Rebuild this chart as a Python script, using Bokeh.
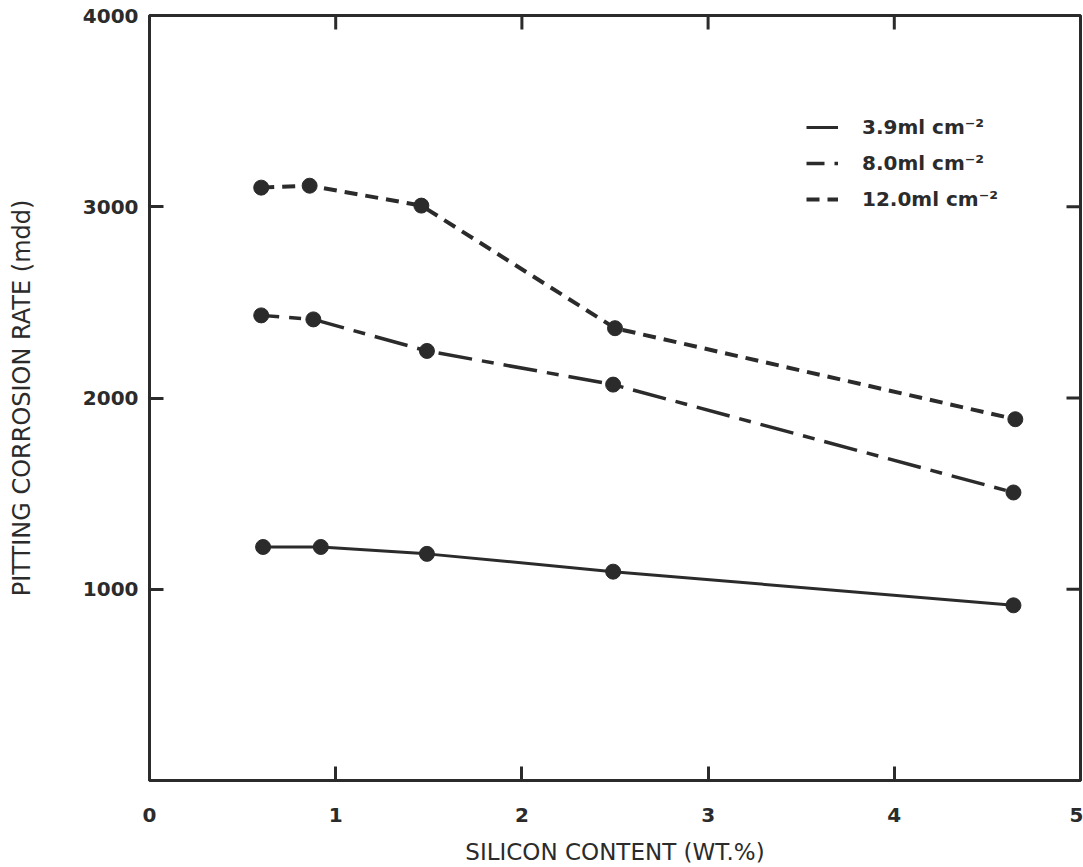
import math
from bokeh.plotting import figure
from bokeh.models import Range1d, FixedTicker, LinearAxis, Legend, LegendItem
from bokeh.embed import file_html
from bokeh.resources import INLINE

# ---- data ----
silicon_39 = [0.61, 0.92, 1.49, 2.49, 4.64]
rate_39 = [1221, 1221, 1185, 1092, 916]

silicon_80 = [0.60, 0.88, 1.49, 2.49, 4.64]
rate_80 = [2432, 2411, 2246, 2070, 1506]

silicon_120 = [0.60, 0.86, 1.46, 2.50, 4.65]
rate_120 = [3100, 3110, 3006, 2365, 1889]

series_labels = ["3.9ml cm\u207b\u00b2", "8.0ml cm\u207b\u00b2", "12.0ml cm\u207b\u00b2"]
x_ticks = [0, 1, 2, 3, 4, 5]
y_ticks = [1000, 2000, 3000, 4000]
x_min, x_max = 0, 5
y_min, y_max = 0, 4000

INK = "#2b2b2b"
FONT = "DejaVu Sans"

p = figure(width=1083, height=867, output_backend="svg", toolbar_location=None,
           x_range=Range1d(x_min, x_max), y_range=Range1d(y_min, y_max),
           min_border_left=149, min_border_right=3, min_border_top=15,
           min_border_bottom=79, x_axis_location=None, y_axis_location=None)
p.xgrid.visible = False
p.ygrid.visible = False
p.outline_line_color = INK
p.outline_line_width = 3
p.background_fill_color = "white"
p.border_fill_color = "white"


def style_axis(ax):
    ax.axis_line_color = INK
    ax.axis_line_width = 3
    ax.major_tick_line_color = INK
    ax.major_tick_line_width = 3
    ax.major_tick_in = 14
    ax.major_tick_out = 0
    ax.minor_tick_line_color = None
    ax.major_label_text_font = FONT
    ax.major_label_text_font_style = "bold"
    ax.major_label_text_font_size = "20px"
    ax.major_label_text_color = INK


bottom = LinearAxis(ticker=FixedTicker(ticks=x_ticks), axis_label="SILICON CONTENT (WT.%)")
style_axis(bottom)
bottom.major_label_standoff = 27
bottom.axis_label_standoff = 14
bottom.axis_label_text_font = FONT
bottom.axis_label_text_font_size = "23px"
bottom.axis_label_text_font_style = "normal"
bottom.axis_label_text_color = INK
p.add_layout(bottom, "below")

left = LinearAxis(ticker=FixedTicker(ticks=y_ticks), axis_label="PITTING CORROSION RATE (mdd)")
style_axis(left)
left.major_label_standoff = 11
left.axis_label_standoff = 44
left.axis_label_text_font = FONT
left.axis_label_text_font_size = "24px"
left.axis_label_text_font_style = "normal"
left.axis_label_text_color = INK
p.add_layout(left, "left")

# inward ticks on the top and right frame edges (rays of fixed screen length)
p.ray(x=x_ticks, y=[y_max] * len(x_ticks), length=14, length_units="screen",
      angle=-math.pi / 2, line_color=INK, line_width=3)
p.ray(x=[x_max] * len(y_ticks), y=y_ticks, length=14, length_units="screen",
      angle=math.pi, line_color=INK, line_width=3)

# ---- series ----
r39 = p.line(silicon_39, rate_39, line_color=INK, line_width=3)
r80 = p.line(silicon_80, rate_80, line_color=INK, line_width=3.5,
             line_dash="34 10 12 10", line_dash_offset=16)
r120 = p.line(silicon_120, rate_120, line_color=INK, line_width=4, line_dash="13 8")

for xs, ys in [(silicon_39, rate_39), (silicon_80, rate_80), (silicon_120, rate_120)]:
    p.scatter(xs, ys, marker="circle", size=15, fill_color=INK, line_color=INK)

legend = Legend(items=[LegendItem(label=series_labels[0], renderers=[r39]),
                       LegendItem(label=series_labels[1], renderers=[r80]),
                       LegendItem(label=series_labels[2], renderers=[r120])],
                location=(657, 569), orientation="vertical")
legend.border_line_color = None
legend.background_fill_alpha = 0
legend.padding = 0
legend.margin = 0
legend.spacing = 12
legend.glyph_width = 32
legend.glyph_height = 20
legend.label_height = 20
legend.label_standoff = 24
legend.label_text_font = FONT
legend.label_text_font_style = "bold"
legend.label_text_font_size = "20px"
legend.label_text_color = INK
p.add_layout(legend, "center")

open("out.html", "w").write(file_html(p, INLINE))
